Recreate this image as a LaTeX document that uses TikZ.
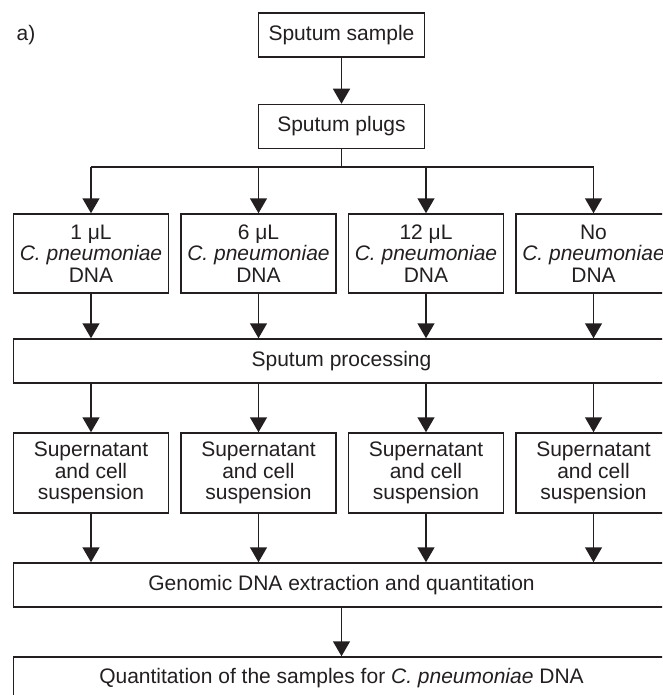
\documentclass[tikz,border=0pt]{standalone}
\usepackage{fontspec}
\setmainfont{Liberation Sans}
\usepackage{xcolor}
\usepackage{tikz}
\usetikzlibrary{arrows.meta, positioning}
\definecolor{ink}{HTML}{231F20}

\begin{document}
\begin{tikzpicture}[
    x=1pt, y=1pt,
    every node/.style={font=\fontsize{21}{21.5}\selectfont, text=ink},
    box/.style={rectangle, draw=ink, line width=1.5pt, inner sep=0pt, align=center, minimum width=155pt},
    small/.style={box, minimum width=166pt, minimum height=44pt},
    wide/.style={box, minimum width=656pt, minimum height=44pt},
    tall/.style={box, minimum height=80pt},
    arrow/.style={-{Triangle[width=17pt, length=15pt]}, draw=ink, line width=1.5pt},
    wire/.style={draw=ink, line width=1.5pt}
]

\clip (0,0) rectangle (662,-695);

% Label
\node (tag) at (26,-35) {a)};

% Top
\node[small] (sample) at (341.5,-35) {Sputum sample};
\node[small, below=46pt of sample] (plugs) {Sputum plugs};
\coordinate (split) at (341.5,-167);

% Spiked plugs
\node[tall, minimum height=79pt] (dna1) at (91,-253.5) {1 μL\\\textit{C. pneumoniae}\\DNA};
\node[tall, minimum height=79pt, right=11pt of dna1] (dna2) {6 μL\\\textit{C. pneumoniae}\\DNA};
\node[tall, minimum height=79pt, right=11pt of dna2] (dna3) {12 μL\\\textit{C. pneumoniae}\\DNA};
\node[tall, minimum height=79pt, right=11pt of dna3] (dna4) {No\\\textit{C. pneumoniae}\\DNA};

\node[wide] (proc) at (341.5,-361) {Sputum processing};

% Suspensions
\node[tall] (sup1) at (91,-473) {Supernatant\\and cell\\suspension};
\node[tall, right=11pt of sup1] (sup2) {Supernatant\\and cell\\suspension};
\node[tall, right=11pt of sup2] (sup3) {Supernatant\\and cell\\suspension};
\node[tall, right=11pt of sup3] (sup4) {Supernatant\\and cell\\suspension};

\node[wide] (extract) at (341.5,-585) {Genomic DNA extraction and quantitation};
\node[wide, minimum height=42pt] (quant) at (341.5,-678) {Quantitation of the samples for \textit{C. pneumoniae} DNA};

% Connectors
\draw[arrow] (sample) -- (plugs);
\draw[wire] (plugs) -- (split);
\draw[wire] (split -| dna1) -- (split -| dna4);
\draw[arrow] (split -| dna1) -- (dna1);
\draw[arrow] (split -| dna2) -- (dna2);
\draw[arrow] (split -| dna3) -- (dna3);
\draw[arrow] (split -| dna4) -- (dna4);

\draw[arrow] (dna1) -- (dna1 |- proc.north);
\draw[arrow] (dna2) -- (dna2 |- proc.north);
\draw[arrow] (dna3) -- (dna3 |- proc.north);
\draw[arrow] (dna4) -- (dna4 |- proc.north);

\draw[arrow] (sup1 |- proc.south) -- (sup1);
\draw[arrow] (sup2 |- proc.south) -- (sup2);
\draw[arrow] (sup3 |- proc.south) -- (sup3);
\draw[arrow] (sup4 |- proc.south) -- (sup4);

\draw[arrow] (sup1) -- (sup1 |- extract.north);
\draw[arrow] (sup2) -- (sup2 |- extract.north);
\draw[arrow] (sup3) -- (sup3 |- extract.north);
\draw[arrow] (sup4) -- (sup4 |- extract.north);

\draw[arrow] (extract) -- (quant);

\end{tikzpicture}
\end{document}
